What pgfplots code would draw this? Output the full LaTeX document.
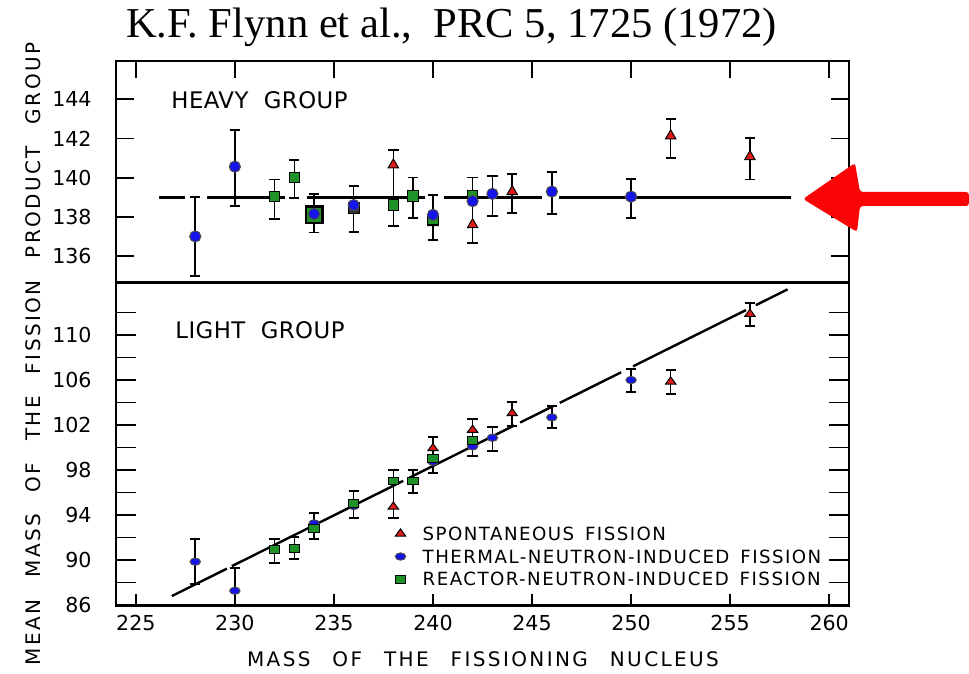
\documentclass[border=0pt]{standalone}
\usepackage{pgfplots}
\pgfplotsset{compat=1.18}
\usepackage{fontspec}
\setmainfont{DejaVu Sans}
\newfontfamily\titlefont{Liberation Serif}
\newfontfamily\lbl[LetterSpace=12,WordSpace=2.5]{DejaVu Sans}
\newfontfamily\grp[LetterSpace=2,WordSpace=2]{DejaVu Sans}
\newfontfamily\leg[LetterSpace=8,WordSpace=1.5]{DejaVu Sans}
\definecolor{sfred}{RGB}{225,25,25}
\definecolor{thblue}{RGB}{20,20,235}
\definecolor{rxgreen}{RGB}{30,145,40}
\definecolor{arrowred}{RGB}{250,5,5}
\pgfplotsset{
  ebar/.style={draw=none, mark=none, forget plot,
    error bars/.cd, y dir=both, y explicit,
    error bar style={draw=black, line width=0.75pt},
    error mark options={draw=black, rotate=90, mark size=2.6pt, line width=0.9pt}},
  toptick/.style={black, line width=0.9pt, forget plot},
  panel/.style={scale only axis, width=366.5pt, xmin=224, xmax=261,
    axis line style={line width=1.2pt}, tick style={line width=0.9pt, black},
    tick align=inside,
    tick label style={font=\fontsize{10.3}{12}\selectfont},
    /pgf/number format/assume math mode=true,
    /pgf/number format/set thousands separator={},
    yticklabel style={inner sep=0pt, xshift=-12pt}},
}
\begin{document}
\begin{tikzpicture}
\path[use as bounding box] (0,0) rectangle (484.5pt,337pt);
% ---------------- heavy group ----------------
\begin{axis}[panel, at={(58pt,195.75pt)}, anchor=south west, height=110.75pt,
  ymin=134.65, ymax=145.95,
  xtick=\empty,
  ytick={136,138,...,144}, ytick pos=both,
  ytick style={/pgfplots/major tick length=9pt}]
% short tick lines hanging from the top edge at 225, 230, ..., 260
\addplot[toptick] coordinates {(225,145.95) (225,145.08)};
\addplot[toptick] coordinates {(230,145.95) (230,145.08)};
\addplot[toptick] coordinates {(235,145.95) (235,145.08)};
\addplot[toptick] coordinates {(240,145.95) (240,145.08)};
\addplot[toptick] coordinates {(245,145.95) (245,145.08)};
\addplot[toptick] coordinates {(250,145.95) (250,145.08)};
\addplot[toptick] coordinates {(255,145.95) (255,145.08)};
\addplot[toptick] coordinates {(260,145.95) (260,145.08)};
\addplot[ebar] table[x=x, y=y, y error=e] {
x y e
228 137.00 2.00
230 140.50 1.94
232 138.90 1.00
233 139.93 0.97
234 138.18 0.98
236 138.40 1.16
238 139.48 1.93
239 138.97 1.04
240 137.95 1.15
242 138.33 1.68
243 139.08 1.02
244 139.19 1.00
246 139.20 1.07
250 138.95 0.99
252 142.00 0.99
256 140.97 1.07
};
\addplot[black, line width=1.5pt, forget plot] coordinates {(226.16,139.0) (227.5,139.0)};
\addplot[black, line width=1.5pt, forget plot] coordinates {(228.6,139.0) (232.53,139.0)};
\addplot[black, line width=1.5pt, forget plot] coordinates {(233.65,139.0) (239.6,139.0)};
\addplot[black, line width=1.5pt, forget plot] coordinates {(240.56,139.0) (245.52,139.0)};
\addplot[black, line width=1.5pt, forget plot] coordinates {(246.36,139.0) (258.06,139.0)};
% spontaneous
\addplot[only marks, mark=triangle*, mark size=3pt, mark options={fill=sfred, draw=black, line width=0.5pt}] coordinates {
(238,140.65) (240,137.70) (242,137.60) (244,139.29) (252,142.13) (256,141.07)};
% reactor
\addplot[only marks, mark=square*, mark size=4.2pt, mark options={fill=rxgreen, draw=black, line width=1.1pt}] coordinates {(234,138.10)};
\addplot[only marks, mark=square*, mark size=2.8pt, mark options={fill=black!80, draw=black, line width=0.5pt}] coordinates {(236,138.45)};
\addplot[only marks, mark=square*, mark size=2.6pt, mark options={fill=rxgreen, draw=black, line width=0.5pt}] coordinates {
(232,139.03) (233,140.00) (238,138.60) (239,139.07) (240,137.85) (242,139.10)};
% thermal
\addplot[only marks, mark=*, mark size=2.8pt, mark options={fill=thblue, draw=black!70, line width=0.5pt}] coordinates {
(228,137.00) (230,140.56) (234,138.15) (236,138.60) (240,138.10) (242,138.80) (243,139.17) (246,139.29) (250,139.03)};
\end{axis}
% ---------------- light group ----------------
\begin{axis}[panel, at={(58pt,34.25pt)}, anchor=south west, height=161.5pt,
  ymin=85.96, ymax=114.67,
  xtick={225,230,...,260}, xtick pos=left,
  xticklabel style={inner sep=0pt, yshift=-4.75pt},
  xtick style={/pgfplots/major tick length=5.5pt},
  ytick={86,88,...,112}, yticklabels={86,,90,,94,,98,,102,,106,,110,},
  ytick pos=both, ytick style={/pgfplots/major tick length=10pt},
  legend style={at={(axis description cs:0.3805,0.244)}, anchor=north west,
    draw=none, fill=none, inner sep=0pt, row sep=4.75pt, column sep=8.5pt,
    font=\leg\fontsize{9.1}{11}\selectfont,
    nodes={inner sep=0pt, text height=6.65pt, text depth=0pt}},
  legend cell align=left,
  legend image code/.code={\draw[#1] plot coordinates {(0pt,0pt)};}]
\addplot[ebar] table[x=x, y=y, y error=e] {
x y e
228 89.87 2.00
230 87.26 2.00
232 90.80 1.04
233 91.07 1.00
234 93.02 1.18
236 94.92 1.21
238 95.88 2.12
239 96.99 1.01
240 99.34 1.58
242 100.88 1.64
243 100.79 1.07
244 103.00 1.07
246 102.70 0.99
250 105.95 1.04
252 105.81 1.08
256 111.84 1.04
};
\addplot[black, line width=1.2pt, forget plot] coordinates {(226.82,86.80) (229.60,89.24)};
\addplot[black, line width=1.2pt, forget plot] coordinates {(229.85,89.46) (238.50,97.04)};
\addplot[black, line width=1.2pt, forget plot] coordinates {(238.80,97.31) (244.10,101.96)};
\addplot[black, line width=1.2pt, forget plot] coordinates {(244.40,102.22) (246.10,103.71)};
\addplot[black, line width=1.2pt, forget plot] coordinates {(246.40,103.97) (249.50,106.69)};
\addplot[black, line width=1.2pt, forget plot] coordinates {(250.10,107.22) (255.80,112.22)};
\addplot[black, line width=1.2pt, forget plot] coordinates {(256.30,112.66) (257.90,114.06)};
\addplot[only marks, mark=triangle*, mark size=3pt, mark options={fill=sfred, draw=black, line width=0.5pt, yscale=0.8}] coordinates {
(238,94.74) (240,99.93) (242,101.56) (244,103.04) (252,105.85) (256,111.87)};
\addlegendentry{SPONTANEOUS FISSION}
\addplot[only marks, mark=*, mark size=2.6pt, mark options={fill=thblue, draw=black!70, line width=0.5pt, yscale=0.7}] coordinates {
(228,89.85) (230,87.27) (234,93.26) (236,94.80) (240,98.74) (242,100.10) (243,100.87) (246,102.68) (250,106.00)};
\addlegendentry{THERMAL-NEUTRON-INDUCED FISSION}
\addplot[only marks, mark=square*, mark size=2.6pt, mark options={fill=rxgreen, draw=black, line width=0.5pt, yscale=0.75}] coordinates {
(232,90.95) (233,91.04) (234,92.82) (236,95.04) (238,97.02) (239,97.02) (240,99.04) (242,100.60)};
\addlegendentry{REACTOR-NEUTRON-INDUCED FISSION}
\end{axis}
% ---------------- texts ----------------
\node[anchor=base west, inner sep=0pt, font=\titlefont\fontsize{21.3}{24}\selectfont] at (62.8pt,318pt) {K.F. Flynn et al.,\ \ PRC 5, 1725 (1972)};
\node[anchor=base west, inner sep=0pt, font=\grp\fontsize{11.4}{13}\selectfont] at (85.5pt,282.85pt) {HEAVY GROUP};
\node[anchor=base west, inner sep=0pt, font=\grp\fontsize{11.4}{13}\selectfont] at (87.5pt,167.5pt) {LIGHT GROUP};
\node[anchor=base, inner sep=0pt, font=\lbl\fontsize{10}{12}\selectfont] at (241.5pt,3.5pt) {MASS OF THE FISSIONING NUCLEUS};
\node[anchor=base, rotate=90, inner sep=0pt, font=\lbl\fontsize{10}{12}\selectfont] at (20pt,160pt) {MEAN MASS OF THE FISSION PRODUCT GROUP};
% ---------------- red arrow ----------------
\fill[arrowred, rounded corners=1.5pt] (401.5pt,237.5pt) -- (427.5pt,255.5pt) -- (430pt,241pt) -- (484.5pt,241pt) -- (484.5pt,234pt) -- (430pt,234pt) -- (428.5pt,221pt) -- cycle;
\end{tikzpicture}
\end{document}
